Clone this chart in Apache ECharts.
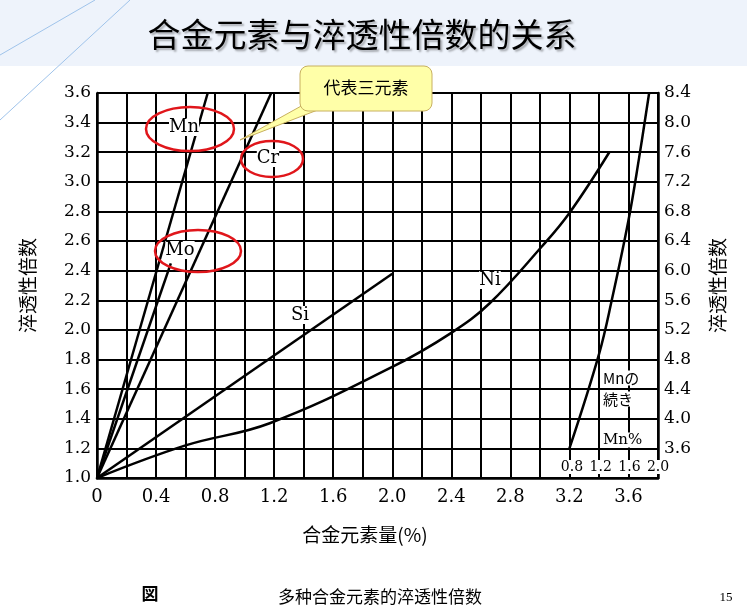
<!DOCTYPE html>
<html><head><meta charset="utf-8">
<script src="https://cdn.jsdelivr.net/npm/echarts@6/dist/echarts.min.js"></script>
<style>body{margin:0}#c{width:747px;height:612px}</style>
</head><body><div id="c"></div>
<script>
// 曲线数据 [合金元素量%, 淬透性倍数]
var mnData = [[0, 1.0], [0.75, 3.6]];
var moData = [[0, 1.0], [0.5, 2.45]];
var crData = [[0, 1.0], [1.18, 3.6]];
var siData = [[0, 1.0], [2.0, 2.38]];
var niData = [[0, 1.0], [0.6, 1.22], [1.17, 1.37], [2.0, 1.75], [2.4, 1.98], [2.66, 2.18], [3.01, 2.56], [3.2, 2.79], [3.47, 3.2]];
// Mn続き (右轴)
var mnContData = [[3.2, 3.6], [3.4, 4.87], [3.49, 5.63], [3.6, 6.68], [3.67, 7.5], [3.74, 8.4]];
var mnPctLabels = ['0.8', '1.2', '1.6', '2.0'];

var chart = echarts.init(document.getElementById('c'));
var lineStyle = {color: '#000', width: 2.5};
function mkSeries(data, yi, smooth) {
	return {type: 'line', data: data, yAxisIndex: yi, smooth: smooth, symbol: 'none', lineStyle: lineStyle, z: 5};
}
var txt = function (x, y, s, size, extra) {
	var st = {text: s, x: x, y: y, fill: '#000', font: (size || 18) + 'px "DejaVu Serif", serif', textAlign: 'center', textVerticalAlign: 'middle'};
	for (var k in extra) st[k] = extra[k];
	return {type: 'text', style: st, z: 20};
};
var ell = function (cx, cy, rx, ry) {
	return {type: 'ellipse', shape: {cx: cx, cy: cy, rx: rx, ry: ry}, style: {fill: 'none', stroke: '#e0161b', lineWidth: 2.5}, z: 21};
};
var graphics = [
	{type: 'rect', shape: {x: 0, y: 0, width: 747, height: 66}, style: {fill: '#eef3fb'}, z: 0},
	{type: 'line', shape: {x1: 0, y1: 55, x2: 95, y2: 0}, style: {stroke: '#9fc3ea', lineWidth: 1}},
	{type: 'line', shape: {x1: 0, y1: 120, x2: 130, y2: 0}, style: {stroke: '#9fc3ea', lineWidth: 1}},
	{type: 'text', style: {text: '合金元素与淬透性倍数的关系', x: 362, y: 34, font: '33px "Noto Sans CJK SC"', fill: '#000', textAlign: 'center', textVerticalAlign: 'middle', textShadowColor: 'rgba(0,0,0,0.3)', textShadowOffsetX: 2, textShadowOffsetY: 2, textShadowBlur: 2}, z: 5},
	txt(184, 127, 'Mn', 18, {backgroundColor: '#fff'}), txt(268, 158, 'Cr', 18, {backgroundColor: '#fff'}), txt(180, 250, 'Mo', 18, {backgroundColor: '#fff'}),
	txt(300, 315, 'Si', 18, {backgroundColor: '#fff'}), txt(490, 280, 'Ni', 18, {backgroundColor: '#fff'}),
	txt(603, 378, 'Mnの', 15, {textAlign: 'left', font: '15px "Noto Sans CJK JP"', backgroundColor: '#fff'}),
	txt(603, 399, '続き', 15, {textAlign: 'left', font: '15px "Noto Sans CJK JP"', backgroundColor: '#fff'}),
	txt(603, 440, 'Mn%', 15, {textAlign: 'left', backgroundColor: '#fff'}),
	ell(190, 129, 44, 22), ell(272, 159, 31, 18), ell(198, 251, 43, 21),
	{type: 'polygon', shape: {points: [[312, 100], [240, 140], [328, 106]]}, style: {fill: '#ffffa8', stroke: '#c8b060', lineWidth: 1}, z: 22},
	{type: 'rect', shape: {x: 300, y: 66, width: 132, height: 45, r: 8}, style: {fill: '#ffffa8', stroke: '#c8b060', lineWidth: 1}, z: 22},
	{type: 'rect', shape: {x: 305, y: 98, width: 30, height: 12}, style: {fill: '#ffffa8'}, z: 23},
	{type: 'text', style: {text: '代表三元素', x: 366, y: 88, font: '17px "Noto Sans CJK SC"', fill: '#000', textAlign: 'center', textVerticalAlign: 'middle'}, z: 24},
	{type: 'text', style: {text: '合金元素量(%)', x: 365, y: 535, font: '19px "Noto Sans CJK SC"', fill: '#000', textAlign: 'center', textVerticalAlign: 'middle'}},
	{type: 'text', style: {text: '図', x: 150, y: 594, font: 'bold 17px "Noto Sans CJK JP"', fill: '#000', textAlign: 'center', textVerticalAlign: 'middle'}},
	{type: 'text', style: {text: '多种合金元素的淬透性倍数', x: 380, y: 597, font: '17px "Noto Sans CJK SC"', fill: '#000', textAlign: 'center', textVerticalAlign: 'middle'}},
	{type: 'text', style: {text: '15', x: 726, y: 598, font: '13px "Liberation Serif"', fill: '#000', textAlign: 'center', textVerticalAlign: 'middle'}},
	{type: 'text', style: {text: 'Rclbbs', x: 690, y: 580, font: 'bold 20px "DejaVu Sans"', fill: 'rgba(160,160,160,0.5)', textAlign: 'center', textVerticalAlign: 'middle'}, rotation: 0.35}
];
for (var i = 0; i < mnPctLabels.length; i++) {
	graphics.push(txt(572 + i * 28.7, 467, mnPctLabels[i], 14, {backgroundColor: '#fff'}));
}
chart.setOption({
	backgroundColor: '#fff',
	animation: false,
	grid: {left: 97, right: 89, top: 93, bottom: 134},
	xAxis: {
		type: 'value', min: 0, max: 3.8, interval: 0.2,
		axisLine: {lineStyle: {color: '#000', width: 2.5}},
		axisTick: {show: false},
		axisLabel: {color: '#000', fontSize: 18, fontFamily: 'DejaVu Serif', margin: 10,
			formatter: function (v) { var n = Math.round(v * 10); return (n % 4 === 0 && n <= 36) ? (n === 0 ? '0' : v.toFixed(1)) : ''; }},
		splitLine: {lineStyle: {color: '#000', width: 2}}
	},
	yAxis: [{
		type: 'value', min: 1.0, max: 3.6, interval: 0.2, name: '淬透性倍数',
		nameLocation: 'middle', nameGap: 60, nameRotate: 90,
		nameTextStyle: {color: '#000', fontSize: 19, fontFamily: 'Noto Sans CJK SC'},
		axisLine: {show: true, lineStyle: {color: '#000', width: 2.5}},
		axisTick: {show: false},
		axisLabel: {color: '#000', fontSize: 17, fontFamily: 'DejaVu Serif', margin: 6, formatter: function (v) { return v.toFixed(1); }},
		splitLine: {lineStyle: {color: '#000', width: 2}}
	}, {
		type: 'value', min: 3.2, max: 8.4, interval: 0.4, name: '淬透性倍数', position: 'right',
		nameLocation: 'middle', nameGap: 50, nameRotate: 90,
		nameTextStyle: {color: '#000', fontSize: 19, fontFamily: 'Noto Sans CJK SC'},
		axisLine: {show: true, lineStyle: {color: '#000', width: 2.5}},
		axisTick: {show: false},
		axisLabel: {color: '#000', fontSize: 17, fontFamily: 'DejaVu Serif', margin: 6,
			formatter: function (v) { return v < 3.5 ? '' : v.toFixed(1); }},
		splitLine: {show: false}
	}],
	series: [
		mkSeries(mnData, 0, false), mkSeries(moData, 0, false), mkSeries(crData, 0, false),
		mkSeries(siData, 0, false), mkSeries(niData, 0, 0.4), mkSeries(mnContData, 1, 0.4)
	],
	graphic: graphics
});
</script>
</body></html>
